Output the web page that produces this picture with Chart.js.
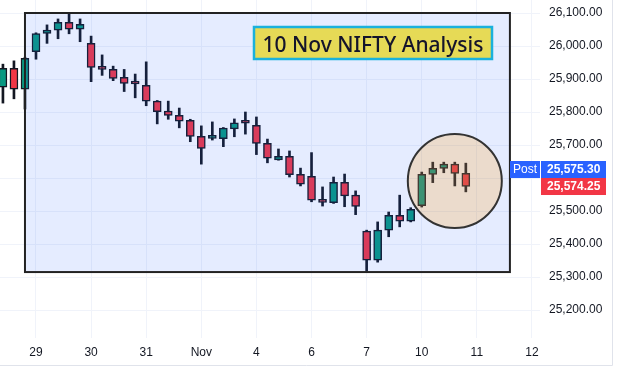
<!DOCTYPE html>
<html>
<head>
<meta charset="utf-8">
<script src="https://cdn.jsdelivr.net/npm/chart.js@4.4.1/dist/chart.umd.min.js"></script>
<style>
  html, body { margin: 0; padding: 0; background: #fff; }
  #wrap { width: 622px; height: 376px; }
</style>
</head>
<body>
<div id="wrap"><canvas id="niftyChart"></canvas></div>
<script>
// 75-minute candles, 28 Oct (last three) to 10 Nov
const openVals  = [25875, 25932, 25869, 25983, 26038, 26048, 26072, 26051, 26008, 25935,
                   25929, 25905, 25887, 25881, 25833, 25803, 25790, 25775, 25726, 25720,
                   25719, 25749, 25768, 25760, 25705, 25655, 25666, 25611, 25605, 25532,
                   25525, 25587, 25548, 25439, 25351, 25442, 25487, 25469, 25516, 25611,
                   25629, 25642, 25614];
const highVals  = [25945, 25955, 25966, 26040, 26064, 26082, 26099, 26082, 26030, 25973,
                   25939, 25929, 25915, 25952, 25835, 25833, 25812, 25778, 25758, 25770,
                   25753, 25779, 25800, 25785, 25718, 25688, 25682, 25630, 25677, 25573,
                   25603, 25612, 25561, 25442, 25467, 25497, 25548, 25510, 25618, 25648,
                   25648, 25648, 25645];
const lowVals   = [25827, 25840, 25809, 25960, 26008, 26022, 26037, 26013, 25892, 25911,
                   25895, 25862, 25843, 25819, 25764, 25778, 25752, 25710, 25642, 25715,
                   25695, 25725, 25733, 25671, 25646, 25654, 25603, 25576, 25528, 25515,
                   25523, 25513, 25489, 25318, 25345, 25422, 25452, 25467, 25512, 25586,
                   25616, 25576, 25558];
const closeVals = [25932, 25869, 25963, 26038, 26048, 26072, 26051, 26066, 25935, 25929,
                   25902, 25887, 25885, 25833, 25801, 25790, 25772, 25726, 25690, 25723,
                   25751, 25767, 25766, 25705, 25660, 25666, 25610, 25581, 25533, 25526,
                   25587, 25546, 25514, 25351, 25442, 25487, 25469, 25505, 25611, 25629,
                   25642, 25614, 25574.25];

// time axis: candle index where each day starts
const dayTickIdx    = [3, 8, 13, 18, 23, 28, 33, 38, 43, 48];
const dayTickLabels = ['29', '30', '31', 'Nov', '4', '6', '7', '10', '11', '12'];
const priceTicks    = [25200, 25300, 25400, 25500, 25600, 25700, 25800, 25900, 26000, 26100];

const postPrice = 25575.30;
const lastPrice = 25574.25;

const UP = '#089981', DOWN = '#f23645';
const idx = openVals.map((_, i) => i);
const bodyColors = idx.map(i => closeVals[i] >= openVals[i] ? UP : DOWN);

const fmt = v => v.toLocaleString('en-US', { minimumFractionDigits: 2, maximumFractionDigits: 2 });

// drawings on top of the candles: rectangle, circle, title box
const drawings = {
  id: 'drawings',
  afterDatasetsDraw(chart) {
    const { ctx, scales: { x, y } } = chart;
    ctx.save();
    // rectangle from 28 Oct last candle to 11 Nov, 26100 down to 25315
    const rx0 = x.getPixelForValue(2), rx1 = x.getPixelForValue(46);
    const ry0 = y.getPixelForValue(26100), ry1 = y.getPixelForValue(25315);
    ctx.fillStyle = 'rgba(41, 98, 255, 0.12)';
    ctx.fillRect(rx0, ry0, rx1 - rx0, ry1 - ry0);
    ctx.lineWidth = 2;
    ctx.strokeStyle = '#222';
    ctx.strokeRect(rx0, ry0, rx1 - rx0, ry1 - ry0);

    // circle round the 10 Nov candles
    const cx = x.getPixelForValue(41), cy = y.getPixelForValue(25591);
    ctx.beginPath();
    ctx.arc(cx, cy, 47, 0, Math.PI * 2);
    ctx.fillStyle = 'rgba(255, 152, 0, 0.2)';
    ctx.fill();
    ctx.strokeStyle = '#333';
    ctx.stroke();

    // title box
    const bx = 254, by = 27, bw = 238, bh = 32;
    ctx.fillStyle = '#e6da56';
    ctx.fillRect(bx, by, bw, bh);
    ctx.strokeStyle = '#1ab1dc';
    ctx.lineWidth = 2.5;
    ctx.strokeRect(bx, by, bw, bh);
    const title = '10 Nov NIFTY Analysis';
    let size = 24;
    do {
      ctx.font = '500 ' + size + 'px "Noto Sans", "Open Sans", sans-serif';
      size -= 0.5;
    } while (ctx.measureText(title).width > 226 && size > 10);
    ctx.fillStyle = '#14142b';
    ctx.textAlign = 'center';
    ctx.textBaseline = 'alphabetic';
    ctx.fillText(title, bx + bw / 2, 52);
    ctx.restore();
  },
  afterDraw(chart) {
    const { ctx, chartArea, scales: { y } } = chart;
    ctx.save();
    // price labels on the axis
    const ly = y.getPixelForValue(lastPrice);
    const h = 17;
    const ax = chartArea.right + 1;
    ctx.font = 'bold 12px "Liberation Sans", Arial, sans-serif';
    ctx.textBaseline = 'middle';
    ctx.textAlign = 'left';
    ctx.fillStyle = DOWN;
    ctx.fillRect(ax, ly - h / 2, 65, h);
    ctx.fillStyle = '#2962ff';
    ctx.fillRect(ax, ly - h / 2 - h, 65, h);
    ctx.fillRect(chartArea.right - 30, ly - h / 2 - h, 30, h);
    ctx.fillStyle = '#fff';
    ctx.fillText(fmt(lastPrice), ax + 6, ly + 0.5);
    ctx.fillText(fmt(postPrice), ax + 6, ly - h + 0.5);
    ctx.font = '12px "Liberation Sans", Arial, sans-serif';
    ctx.textAlign = 'center';
    ctx.fillText('Post', chartArea.right - 15, ly - h + 0.5);

    // panel frame
    ctx.strokeStyle = '#e0e3eb';
    ctx.lineWidth = 1;
    ctx.beginPath();
    ctx.moveTo(612.5, 0);
    ctx.lineTo(612.5, 365.5);
    ctx.lineTo(0, 365.5);
    ctx.stroke();
    ctx.restore();
  }
};

Chart.defaults.font.family = '"Liberation Sans", Arial, sans-serif';
Chart.defaults.font.size = 12;
Chart.defaults.color = '#131722';

const config = {
  type: 'bar',
  data: {
    datasets: [
      {
        label: 'body',
        data: idx.map(i => ({ x: i, y: [openVals[i], closeVals[i]] })),
        backgroundColor: bodyColors,
        borderColor: '#131722',
        borderWidth: 1.5,
        borderSkipped: false,
        barThickness: 8,
        minBarLength: 3,
        grouped: false,
        order: 1
      },
      {
        label: 'wick',
        data: idx.map(i => ({ x: i, y: [lowVals[i], highVals[i]] })),
        backgroundColor: '#131722',
        borderWidth: 0,
        barThickness: 2,
        grouped: false,
        order: 2
      }
    ]
  },
  options: {
    responsive: true,
    maintainAspectRatio: false,
    animation: false,
    layout: { padding: { right: 10, bottom: 11 } },
    plugins: { legend: { display: false }, tooltip: { enabled: false } },
    scales: {
      x: {
        type: 'linear',
        min: -0.266,
        max: 48.73,
        offset: false,
        grid: { color: '#f0f3fa', drawTicks: false, offset: false },
        border: { display: false },
        afterBuildTicks: s => { s.ticks = dayTickIdx.map(v => ({ value: v })); },
        afterFit: s => { s.height = 27; s.paddingLeft = 0; s.paddingRight = 0; },
        ticks: {
          autoSkip: false,
          maxRotation: 0,
          padding: 7,
          callback: (v, i) => dayTickLabels[i]
        }
      },
      y: {
        position: 'right',
        min: 25115.2,
        max: 26139.4,
        grid: { color: '#f0f3fa', drawTicks: false },
        border: { display: false },
        afterBuildTicks: s => { s.ticks = priceTicks.map(v => ({ value: v })); },
        afterFit: s => { s.width = 72; s.paddingTop = 0; s.paddingBottom = 0; },
        ticks: {
          padding: 9,
          callback: v => fmt(v)
        }
      }
    }
  },
  plugins: [drawings]
};

window.onload = function () {
  const ctx = document.getElementById('niftyChart').getContext('2d');
  new Chart(ctx, config);
};
</script>
</body>
</html>
